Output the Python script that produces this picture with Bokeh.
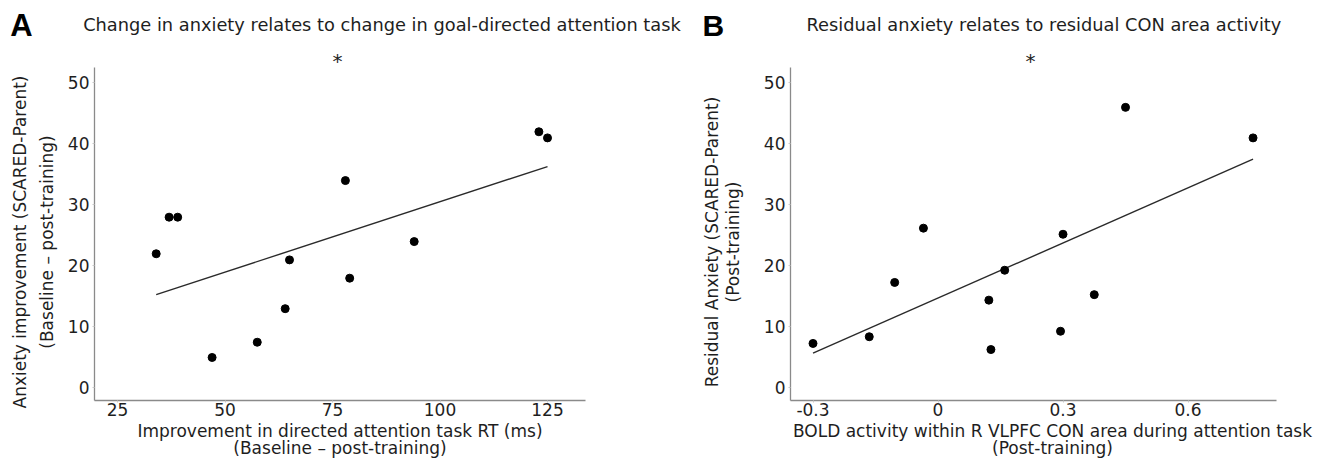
import numpy as np
from bokeh.plotting import figure
from bokeh.layouts import row
from bokeh.models import FixedTicker, Range1d, LinearAxis
from bokeh.core.properties import value
from bokeh.embed import file_html
from bokeh.resources import INLINE

# ---------------- data ----------------
# Panel A: improvement in directed attention task RT (ms) vs anxiety improvement
a_rt = [34, 37, 39, 47, 57.5, 64, 65, 78, 79, 94, 123, 125]
a_anx = [22, 28, 28, 5, 7.5, 13, 21, 34, 18, 24, 42, 41]
a_fit_x = [34, 125]
a_fit_y = [15.3, 36.3]

# Panel B: BOLD activity (R VLPFC CON area) vs residual anxiety
b_bold = [-0.3, -0.165, -0.104, -0.035, 0.122, 0.127, 0.16, 0.294, 0.3, 0.375, 0.45, 0.756]
b_anx = [7.3, 8.4, 17.3, 26.2, 14.4, 6.3, 19.3, 9.3, 25.2, 15.3, 46, 41]
b_fit_x = [-0.3, 0.756]
b_fit_y = [5.7, 37.5]

y_ticks = [0, 10, 20, 30, 40, 50]
a_x_ticks = [25, 50, 75, 100, 125]
b_x_ticks = [-0.3, 0, 0.3, 0.6]
b_x_tick_labels = ["-0.3", "0", "0.3", "0.6"]

title_a = "Change in anxiety relates to change in goal-directed attention task"
title_b = "Residual anxiety relates to residual CON area activity"
xlab_a = "Improvement in directed attention task RT (ms)\n(Baseline \u2013 post-training)"
ylab_a = "Anxiety improvement (SCARED-Parent)\n(Baseline \u2013 post-training)"
xlab_b = "BOLD activity within R VLPFC CON area during attention task\n(Post-training)"
ylab_b = "Residual Anxiety (SCARED-Parent)\n(Post-training)"

# axis extents (data units)
y_lo, y_hi = -2.05, 52.55
a_x_lo, a_x_hi = 19.65, 133.84
b_x_lo, b_x_hi = -0.354, 0.812

FONT = "DejaVu Sans"
BOLD_FONT = "Liberation Sans"
TXT = "#1e1e1e"
H = 458


def style_axis(ax):
    ax.axis_line_color = "#8a8a8a"
    ax.axis_line_width = 1.3
    ax.major_tick_line_color = "#c8c8c8"
    ax.major_tick_out = 2
    ax.major_tick_in = 0
    ax.minor_tick_line_color = None
    ax.major_label_text_font = FONT
    ax.major_label_text_font_size = "17px"
    ax.major_label_text_color = TXT
    ax.axis_label_text_font = FONT
    ax.axis_label_text_font_size = "17px"
    ax.axis_label_text_font_style = "normal"
    ax.axis_label_text_color = TXT


def make(width, xr, yr, x_lo, x_hi, xticks):
    p = figure(width=width, height=H, output_backend="svg", toolbar_location=None,
               x_range=Range1d(*xr), y_range=Range1d(*yr),
               min_border_left=0, min_border_right=0, min_border_top=0,
               min_border_bottom=0)
    p.xgrid.visible = False
    p.ygrid.visible = False
    p.outline_line_color = None
    xa, ya = p.xaxis[0], p.yaxis[0]
    xa.fixed_location = y_lo
    ya.fixed_location = x_lo
    xa.bounds = (x_lo, x_hi)
    ya.bounds = (y_lo, y_hi)
    xa.ticker = FixedTicker(ticks=xticks)
    ya.ticker = FixedTicker(ticks=y_ticks)
    style_axis(xa)
    style_axis(ya)
    xa.major_label_standoff = 1
    ya.major_label_standoff = 3
    return p


def label_axis(p, side, loc, bounds, text, standoff, lh):
    # axis that only carries the axis title (no visible line, ticks or tick labels)
    ax = LinearAxis(fixed_location=loc, bounds=bounds, ticker=FixedTicker(ticks=[]),
                    axis_label=text)
    style_axis(ax)
    ax.axis_line_alpha = 0
    ax.major_tick_line_alpha = 0
    ax.axis_label_standoff = standoff
    ax.axis_label_text_line_height = lh
    p.add_layout(ax, side)


def header(p, letter, lx, ly, lsize, title, tx, ty, sx, sy):
    p.text(x=[lx], y=[ly], text=[letter], text_font=value(BOLD_FONT),
           text_font_style="bold", text_font_size=lsize, text_color="black",
           text_align="center", text_baseline="middle")
    p.text(x=[tx], y=[ty], text=[title], text_font=value(FONT),
           text_font_size="17.8px", text_color=TXT,
           text_align="left", text_baseline="middle")
    p.text(x=[sx], y=[sy], text=["*"], text_font=value(FONT),
           text_font_size="20px", text_color=TXT,
           text_align="center", text_baseline="top")


# ---------------- Panel A ----------------
pA = make(692, (-2.209, 158.72), (-11.56, 63.52), a_x_lo, a_x_hi, a_x_ticks)
label_axis(pA, "below", y_lo, (a_x_lo, a_x_hi), xlab_a, 20, 0.87)
label_axis(pA, "left", a_x_lo, (y_lo - 1.3, y_hi - 1.3), ylab_a, 38, 1.35)
pA.line(a_fit_x, a_fit_y, line_color="#2a2a2a", line_width=1.4)
pA.scatter(a_rt, a_anx, size=8, fill_color="black", line_color="black")
header(pA, "A", 2.67, 59.43, "31px", title_a, 17.02, 59.59, 76.16, 55.65)

# ---------------- Panel B ----------------
b_over = {t: s for t, s in zip(b_x_ticks, b_x_tick_labels)}
pB = make(621, (-0.5892, 0.9011), (-11.56, 63.52), b_x_lo, b_x_hi, b_x_ticks)
pB.xaxis[0].major_label_overrides = b_over
label_axis(pB, "below", y_lo, (b_x_lo + 0.0456, b_x_hi + 0.0456), xlab_b, 20, 0.87)
label_axis(pB, "left", b_x_lo, (y_lo - 1.3, y_hi - 1.3), ylab_b, 48, 1.05)
pB.line(b_fit_x, b_fit_y, line_color="#2a2a2a", line_width=1.4)
pB.scatter(b_bold, b_anx, size=8, fill_color="black", line_color="black")
header(pB, "B", -0.539, 59.34, "30px", title_b, -0.3156, 59.59, 0.222, 55.65)

layout = row(pA, pB)
open("out.html", "w").write(file_html(layout, INLINE))
